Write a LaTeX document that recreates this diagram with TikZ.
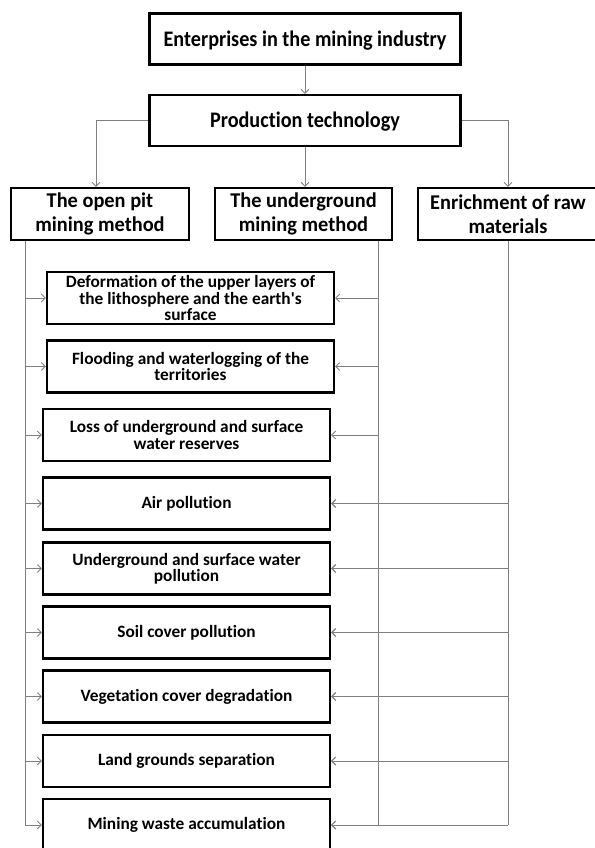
\documentclass[tikz,border=0pt]{standalone}
\usepackage{fontspec}
\setmainfont{Carlito}[Ligatures={TeXOff,NoCommon}]
\newfontfamily\topfont{Carlito}[FakeStretch=0.91, Ligatures={TeXOff,NoCommon}]
\newfontfamily\midfont{Carlito}[FakeStretch=0.97, Ligatures={TeXOff,NoCommon}]
\usetikzlibrary{arrows.meta}
\begin{document}
\begin{tikzpicture}[x=1pt,y=-1pt,
  boxbase/.style={draw=black, line width=2.2pt, inner sep=0pt, align=center, text=black},
  topbox/.style={boxbase, minimum width=311pt, minimum height=51pt, text height=14.3pt, text depth=0pt, font=\topfont\bfseries\fontsize{22.2}{25}\selectfont},
  midbox/.style={boxbase, minimum width=177pt, minimum height=52pt, font=\midfont\bfseries\fontsize{21}{23.5}\selectfont},
  effbox/.style={boxbase, minimum width=287pt, minimum height=52pt, font=\bfseries\fontsize{17.3}{16.3}\selectfont},
  conn/.style={draw=black!50, line width=0.9pt},
  arr/.style={conn, -{Straight Barb[length=4pt,width=8pt]}}]
\useasboundingbox (0,0) rectangle (594,848);

\node[topbox] (ent) at (305,39) {Enterprises in the mining industry};
\node[topbox] (prod) at (305,120.5) {Production technology};

\node[midbox, minimum width=178pt] (open) at (100,214) {The open pit\\mining method};
\node[midbox] (under) at (303.5,214) {The underground\\mining method};
\node[midbox, minimum width=180pt] (enr) at (508,214) {Enrichment of raw\\materials};

\node[effbox] (d1) at (190.5,298) {Deformation of the upper layers of\\the lithosphere and the earth's\\surface};
\node[effbox] (d2) at (190.5,366.5) {Flooding and waterlogging of the\\territories};
\node[effbox] (d3) at (186.5,435) {Loss of underground and surface\\water reserves};
\node[effbox] (d4) at (186.5,503.5) {Air pollution};
\node[effbox] (d5) at (186.5,568.5) {Underground and surface water\\pollution};
\node[effbox] (d6) at (186.5,632.5) {Soil cover pollution};
\node[effbox] (d7) at (186.5,696.5) {Vegetation cover degradation};
\node[effbox] (d8) at (186.5,761) {Land grounds separation};
\node[effbox] (d9) at (186.5,825) {Mining waste accumulation};

\draw[arr] (ent.south) -- (prod.north);
\draw[arr] (prod.west) -| ([xshift=-4pt]open.north);
\draw[arr] (prod.south) -- (prod.south |- under.north);
\draw[arr] (prod.east) -| (enr.north);

\coordinate (lv) at (25,0);
\coordinate (mv) at (378,0);
\coordinate (rv) at (508,0);
\draw[conn] (open.south -| lv) -- (lv |- d9.west);
\draw[conn] (under.south -| mv) -- (mv |- d9.east);
\draw[conn] (enr.south -| rv) -- (rv |- d9.east);
\foreach \i in {1,...,9} {
  \draw[arr] (lv |- d\i.west) -- (d\i.west);
  \draw[arr] (mv |- d\i.east) -- (d\i.east);
}
\foreach \i in {4,...,9} {
  \draw[arr] (rv |- d\i.east) -- (d\i.east);
}
\end{tikzpicture}
\end{document}
